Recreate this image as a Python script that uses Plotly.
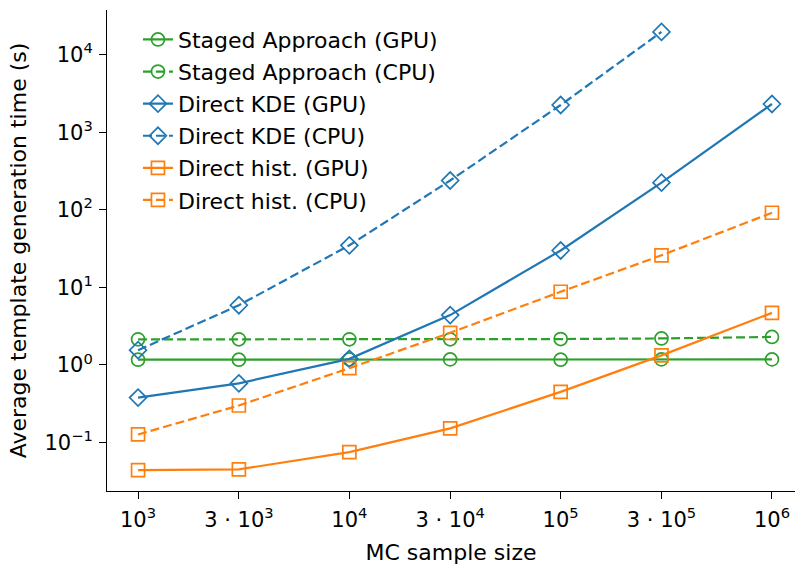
import plotly.graph_objects as go

sample_sizes = [1e3, 3e3, 1e4, 3e4, 1e5, 3e5, 1e6]
x_tick_labels = ["10<sup>3</sup>", "3 · 10<sup>3</sup>", "10<sup>4</sup>", "3 · 10<sup>4</sup>",
                 "10<sup>5</sup>", "3 · 10<sup>5</sup>", "10<sup>6</sup>"]
y_tick_vals = [1e-1, 1e0, 1e1, 1e2, 1e3, 1e4]
y_tick_labels = ["10<sup>−1</sup>", "10<sup>0</sup>", "10<sup>1</sup>", "10<sup>2</sup>",
                 "10<sup>3</sup>", "10<sup>4</sup>"]

staged_gpu = [1.17, 1.17, 1.18, 1.18, 1.17, 1.18, 1.18]
staged_cpu = [2.14, 2.14, 2.14, 2.14, 2.16, 2.2, 2.3]
kde_gpu_x = sample_sizes
kde_gpu = [0.38, 0.58, 1.2, 4.4, 30.0, 225, 2330]
kde_cpu_x = sample_sizes[:6]
kde_cpu = [1.55, 5.9, 35, 240, 2260, 19800]
hist_gpu = [0.044, 0.045, 0.075, 0.152, 0.45, 1.33, 4.7]
hist_cpu = [0.127, 0.30, 0.91, 2.6, 8.8, 26, 92]

GREEN = "#2ca02c"
BLUE = "#1f77b4"
ORANGE = "#ff7f0e"
DASH = "9px,4px"

series = [
    ("Staged Approach (GPU)", sample_sizes, staged_gpu, GREEN, "solid", "circle-open"),
    ("Staged Approach (CPU)", sample_sizes, staged_cpu, GREEN, DASH, "circle-open"),
    ("Direct KDE (GPU)", kde_gpu_x, kde_gpu, BLUE, "solid", "diamond-open"),
    ("Direct KDE (CPU)", kde_cpu_x, kde_cpu, BLUE, DASH, "diamond-open"),
    ("Direct hist. (GPU)", sample_sizes, hist_gpu, ORANGE, "solid", "square-open"),
    ("Direct hist. (CPU)", sample_sizes, hist_cpu, ORANGE, DASH, "square-open"),
]

fig = go.Figure()
for i, (name, xs, ys, col, dash, sym) in enumerate(series):
    fig.add_trace(go.Scatter(
        x=xs, y=ys, name=name, mode="lines+markers",
        legendgroup=f"g{i}",
        line=dict(color=col, width=2.2, dash=dash),
        marker=dict(symbol=sym, size=13, color=col, line=dict(color=col, width=1.7)),
    ))

fig.update_layout(
    width=797, height=566,
    margin=dict(l=107, r=2, t=10, b=75),
    plot_bgcolor="white", paper_bgcolor="white",
    font=dict(family="DejaVu Sans", size=21, color="black"),
    showlegend=True,
    legend=dict(
        x=0.045, y=0.982, xanchor="left", yanchor="top",
        bgcolor="rgba(255,255,255,0)", borderwidth=0,
        font=dict(size=22, family="DejaVu Sans"),
        traceorder="grouped", tracegroupgap=0.5,
    ),
)
fig.update_xaxes(
    type="log", range=[2.853, 6.109],
    tickvals=sample_sizes, ticktext=x_tick_labels,
    ticks="outside", ticklen=7, tickwidth=1, tickcolor="black",
    ticklabelstandoff=3,
    showline=True, linecolor="black", linewidth=1,
    showgrid=False, zeroline=False,
    tickfont=dict(size=21),
    title=dict(text="MC sample size", font=dict(size=22), standoff=13),
)
fig.update_yaxes(
    type="log", range=[-1.626, 4.58],
    tickvals=y_tick_vals, ticktext=y_tick_labels,
    ticks="outside", ticklen=7, tickwidth=1, tickcolor="black",
    ticklabelstandoff=2,
    showline=True, linecolor="black", linewidth=1,
    showgrid=False, zeroline=False,
    tickfont=dict(size=21),
    title=dict(text="Average template generation time (s)", font=dict(size=22), standoff=11),
)

fig.write_html("out.html")
